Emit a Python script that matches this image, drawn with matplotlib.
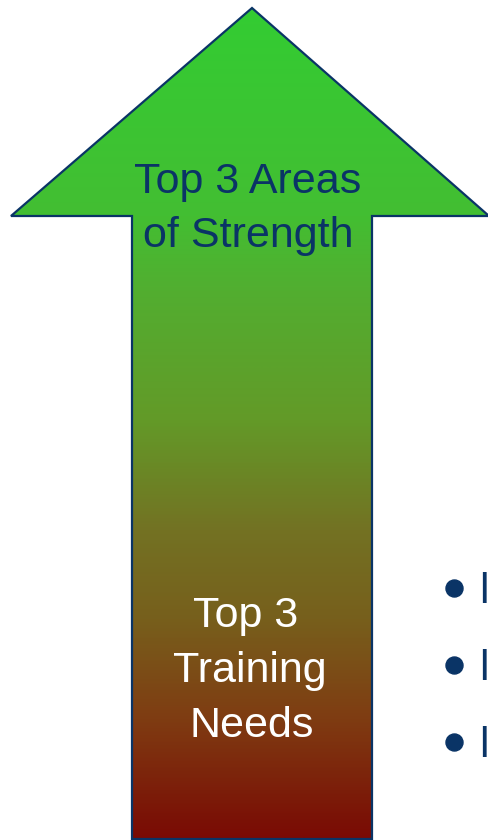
import numpy as np
import matplotlib
matplotlib.use("Agg")
import matplotlib.pyplot as plt
from matplotlib.colors import LinearSegmentedColormap
from matplotlib.patches import Polygon

plt.rcParams['font.family'] = ['Liberation Sans', 'DejaVu Sans']

W, H = 489, 840

# ── arrow outline (pixel coords, y down) ──
arrow_x = [252, 489, 372, 372, 132, 132, 11]
arrow_y = [8, 216, 216, 839, 839, 216, 216]

# ── vertical gradient stops: (y in px, colour) ──
grad_y = [8, 216, 290, 420, 530, 620, 720, 839]
grad_c = ['#33CC33', '#43BE32', '#52AE30', '#639A28',
          '#737223', '#775F1C', '#7F3C12', '#7A0A04']

# ── labels ──
top_lines = ['Top 3 Areas', 'of Strength']
top_x = [248, 248]
top_base = [193, 247]

bot_lines = ['Top 3', 'Training', 'Needs']
bot_x = [246, 250, 252]
bot_base = [627, 682, 737]

bullet_y = [588, 665, 742]
bullet_txt = ['l', 'l', 'l']   # only the first stroke of each item is visible

NAVY = '#0A3466'

fig = plt.figure(figsize=(W/100, H/100), dpi=100)
ax = fig.add_axes([0, 0, 1, 1])
ax.set_xlim(0, W); ax.set_ylim(H, 0)
ax.axis('off')

# gradient image clipped to the arrow
pos = [(y - grad_y[0]) / (grad_y[-1] - grad_y[0]) for y in grad_y]
cmap = LinearSegmentedColormap.from_list('arrow', list(zip(pos, grad_c)))
grad = np.linspace(0, 1, 512).reshape(-1, 1)
im = ax.imshow(grad, cmap=cmap, aspect='auto',
               extent=(0, W, grad_y[-1], grad_y[0]), interpolation='bilinear')
poly = Polygon(np.column_stack([arrow_x, arrow_y]), closed=True,
               facecolor='none', edgecolor=NAVY, lw=1.6, zorder=3)
ax.add_patch(poly)
im.set_clip_path(poly)

for s, x, y in zip(top_lines, top_x, top_base):
    ax.text(x, y, s, color=NAVY, fontsize=31, ha='center', va='baseline', zorder=4)
for s, x, y in zip(bot_lines, bot_x, bot_base):
    ax.text(x, y, s, color='white', fontsize=31, ha='center', va='baseline', zorder=4)

# bullet list running off the right edge
ax.scatter([454]*len(bullet_y), bullet_y, s=150, color=NAVY, zorder=4)
for y, s in zip(bullet_y, bullet_txt):
    ax.text(479.5, y + 15, s, color=NAVY, fontsize=31, ha='left', va='baseline',
            zorder=4)

fig.savefig('out.png', dpi=100)
